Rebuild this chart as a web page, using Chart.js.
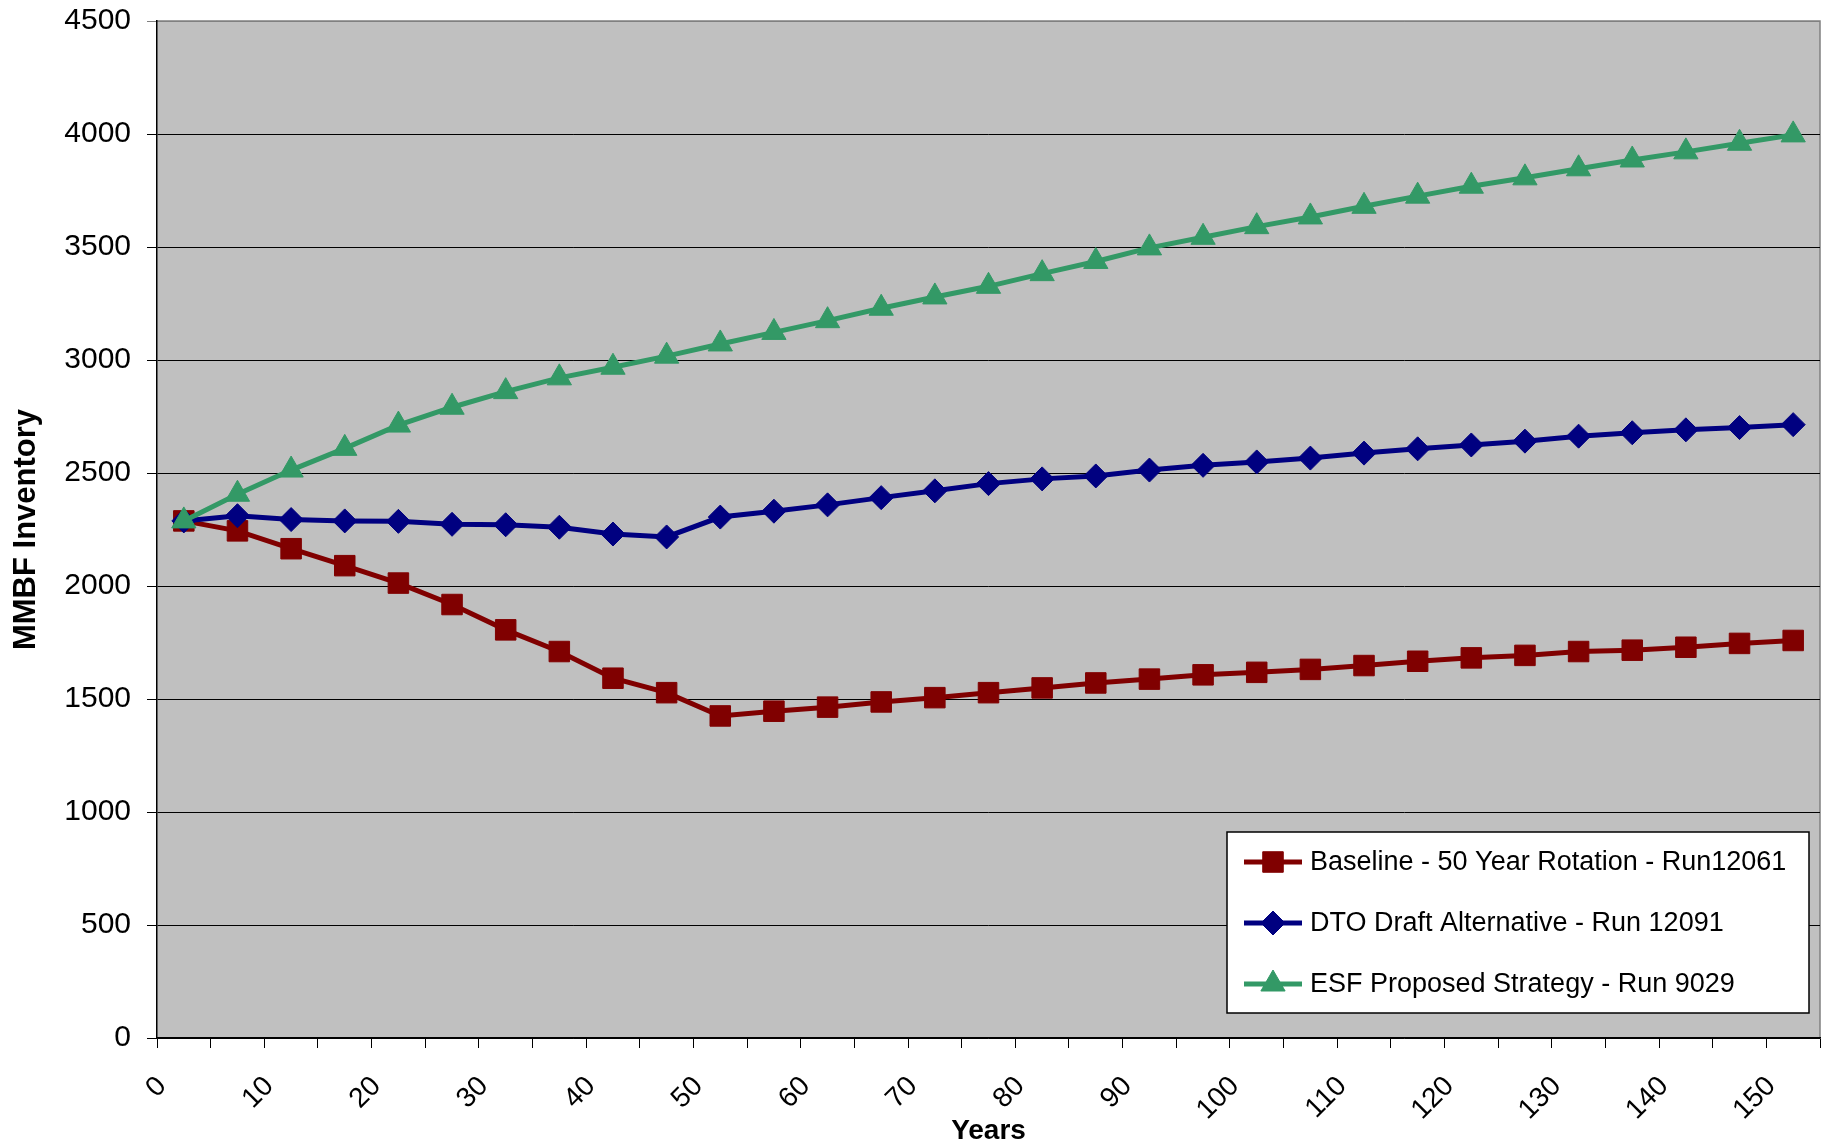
<!DOCTYPE html>
<html>
<head>
<meta charset="utf-8">
<script src="https://cdn.jsdelivr.net/npm/chart.js@4.4.0/dist/chart.umd.min.js"></script>
<style>
  html, body { margin: 0; padding: 0; background: #fff; }
  #wrap { width: 1825px; height: 1141px; }
</style>
</head>
<body>
<div id="wrap"><canvas id="inventoryChart"></canvas></div>
<script>
// Data (midpoints of each 5-year period)
const years = [2.5, 7.5, 12.5, 17.5, 22.5, 27.5, 32.5, 37.5, 42.5, 47.5, 52.5, 57.5, 62.5, 67.5, 72.5, 77.5,
  82.5, 87.5, 92.5, 97.5, 102.5, 107.5, 112.5, 117.5, 122.5, 127.5, 132.5, 137.5, 142.5, 147.5, 152.5];

const baselineValues = [2288, 2244, 2165, 2090, 2013, 1918, 1806, 1710, 1592, 1528, 1425, 1446, 1464, 1487, 1506, 1528,
  1549, 1571, 1588, 1607, 1618, 1631, 1648, 1667, 1682, 1693, 1710, 1716, 1729, 1746, 1759];

const dtoValues = [2288, 2311, 2294, 2288, 2286, 2273, 2271, 2260, 2230, 2217, 2305, 2331, 2359, 2391, 2421, 2453,
  2474, 2487, 2513, 2534, 2549, 2566, 2588, 2607, 2624, 2641, 2663, 2678, 2691, 2701, 2714];

const esfValues = [2288, 2406, 2513, 2609, 2712, 2791, 2860, 2921, 2968, 3017, 3071, 3122, 3174, 3229, 3279, 3326,
  3382, 3436, 3496, 3543, 3590, 3633, 3680, 3725, 3769, 3806, 3846, 3885, 3921, 3959, 3996];

const seriesLabels = [
  "Baseline - 50 Year Rotation - Run12061",
  "DTO Draft Alternative - Run 12091",
  "ESF Proposed Strategy - Run 9029",
];

const FONT = "'Liberation Sans', Arial, sans-serif";

// Grey plot background with thin frame, like the spreadsheet chart
const plotBackground = {
  id: "plotBackground",
  beforeDraw(chart) {
    const { ctx, chartArea: a } = chart;
    ctx.save();
    ctx.fillStyle = "#c0c0c0";
    ctx.fillRect(a.left, a.top, a.right - a.left, a.bottom - a.top);
    ctx.strokeStyle = "#808080";
    ctx.lineWidth = 1.5;
    ctx.beginPath();
    ctx.moveTo(a.left, a.top);
    ctx.lineTo(a.right, a.top);
    ctx.lineTo(a.right, a.bottom);
    ctx.stroke();
    ctx.restore();
  },
};

// Legend box drawn inside the lower right of the plot
const insideLegend = {
  id: "insideLegend",
  afterDatasetsDraw(chart) {
    const { ctx, chartArea: a } = chart;
    const boxW = 582, boxH = 181;
    const x0 = a.right - 11 - boxW;
    const y0 = a.bottom - 25 - boxH;
    ctx.save();
    ctx.fillStyle = "#fff";
    ctx.fillRect(x0, y0, boxW, boxH);
    ctx.strokeStyle = "#000";
    ctx.lineWidth = 1.5;
    ctx.strokeRect(x0, y0, boxW, boxH);

    chart.data.datasets.forEach((ds, i) => {
      const cy = y0 + 30 + i * 61;
      ctx.strokeStyle = ds.borderColor;
      ctx.lineWidth = ds.borderWidth;
      ctx.beginPath();
      ctx.moveTo(x0 + 17, cy);
      ctx.lineTo(x0 + 75, cy);
      ctx.stroke();
      ctx.fillStyle = ds.pointBackgroundColor;
      ctx.strokeStyle = ds.pointBorderColor;
      ctx.lineWidth = 1;
      Chart.helpers.drawPoint(ctx, { pointStyle: ds.pointStyle, radius: ds.pointRadius, borderWidth: 1, rotation: 0 }, x0 + 46, cy);
      ctx.fillStyle = "#000";
      ctx.font = `27px ${FONT}`;
      ctx.textBaseline = "middle";
      ctx.textAlign = "left";
      ctx.fillText(ds.label, x0 + 83, cy + 1);
    });
    ctx.restore();
  },
};

function makeSeries(label, values, color, style, radius, order) {
  return {
    label,
    data: values.map((v, i) => ({ x: years[i], y: v })),
    borderColor: color,
    backgroundColor: color,
    borderWidth: 5,
    pointStyle: style,
    pointRadius: radius,
    pointHoverRadius: radius,
    pointBackgroundColor: color,
    pointBorderColor: color,
    pointBorderWidth: 1,
    tension: 0,
    order,
  };
}

const ctx = document.getElementById("inventoryChart").getContext("2d");
new Chart(ctx, {
  type: "line",
  data: {
    datasets: [
      makeSeries(seriesLabels[0], baselineValues, "#800000", "rect", 14.5, 3),
      makeSeries(seriesLabels[1], dtoValues, "#000080", "rectRot", 12, 2),
      makeSeries(seriesLabels[2], esfValues, "#339966", "triangle", 14, 1),
    ],
  },
  options: {
    responsive: true,
    maintainAspectRatio: false,
    animation: false,
    layout: { autoPadding: false, padding: { top: 21, right: 5, left: 0, bottom: 0 } },
    plugins: {
      legend: { display: false },
      tooltip: { enabled: false },
    },
    scales: {
      x: {
        type: "linear",
        min: 0,
        max: 155,
        afterFit: (scale) => {
          scale.height = 103;
          scale.paddingLeft = 0;
          scale.paddingRight = 0;
        },
        grid: { drawOnChartArea: false, drawTicks: true, tickLength: 10, color: "#000", lineWidth: 1 },
        border: { display: true, color: "#000", width: 1.5 },
        ticks: {
          stepSize: 5,
          autoSkip: false,
          minRotation: 45,
          maxRotation: 45,
          padding: 22,
          labelOffset: 5,
          color: "#000",
          font: { family: FONT, size: 28 },
          callback: (v) => (v % 10 === 0 ? String(v) : ""),
        },
        title: {
          display: true,
          text: "Years",
          color: "#000",
          font: { family: FONT, size: 28, weight: "bold" },
          padding: { top: 0, bottom: -7 },
        },
      },
      y: {
        min: 0,
        max: 4500,
        afterFit: (scale) => {
          scale.width = 157;
          scale.paddingTop = 0;
          scale.paddingBottom = 0;
        },
        grid: {
          drawTicks: true,
          tickLength: 10,
          color: (c) => (c.tick && c.tick.value === 4500 ? "#808080" : "#000"),
          lineWidth: 1,
        },
        border: { display: true, color: "#000", width: 1.5 },
        ticks: {
          stepSize: 500,
          padding: 16,
          color: "#000",
          font: { family: FONT, size: 30 },
          callback: (v) => String(v),
        },
        title: {
          display: true,
          text: "MMBF Inventory",
          color: "#000",
          font: { family: FONT, size: 31, weight: "bold" },
          padding: { top: 8, bottom: 0 },
        },
      },
    },
  },
  plugins: [plotBackground, insideLegend],
});
</script>
</body>
</html>
